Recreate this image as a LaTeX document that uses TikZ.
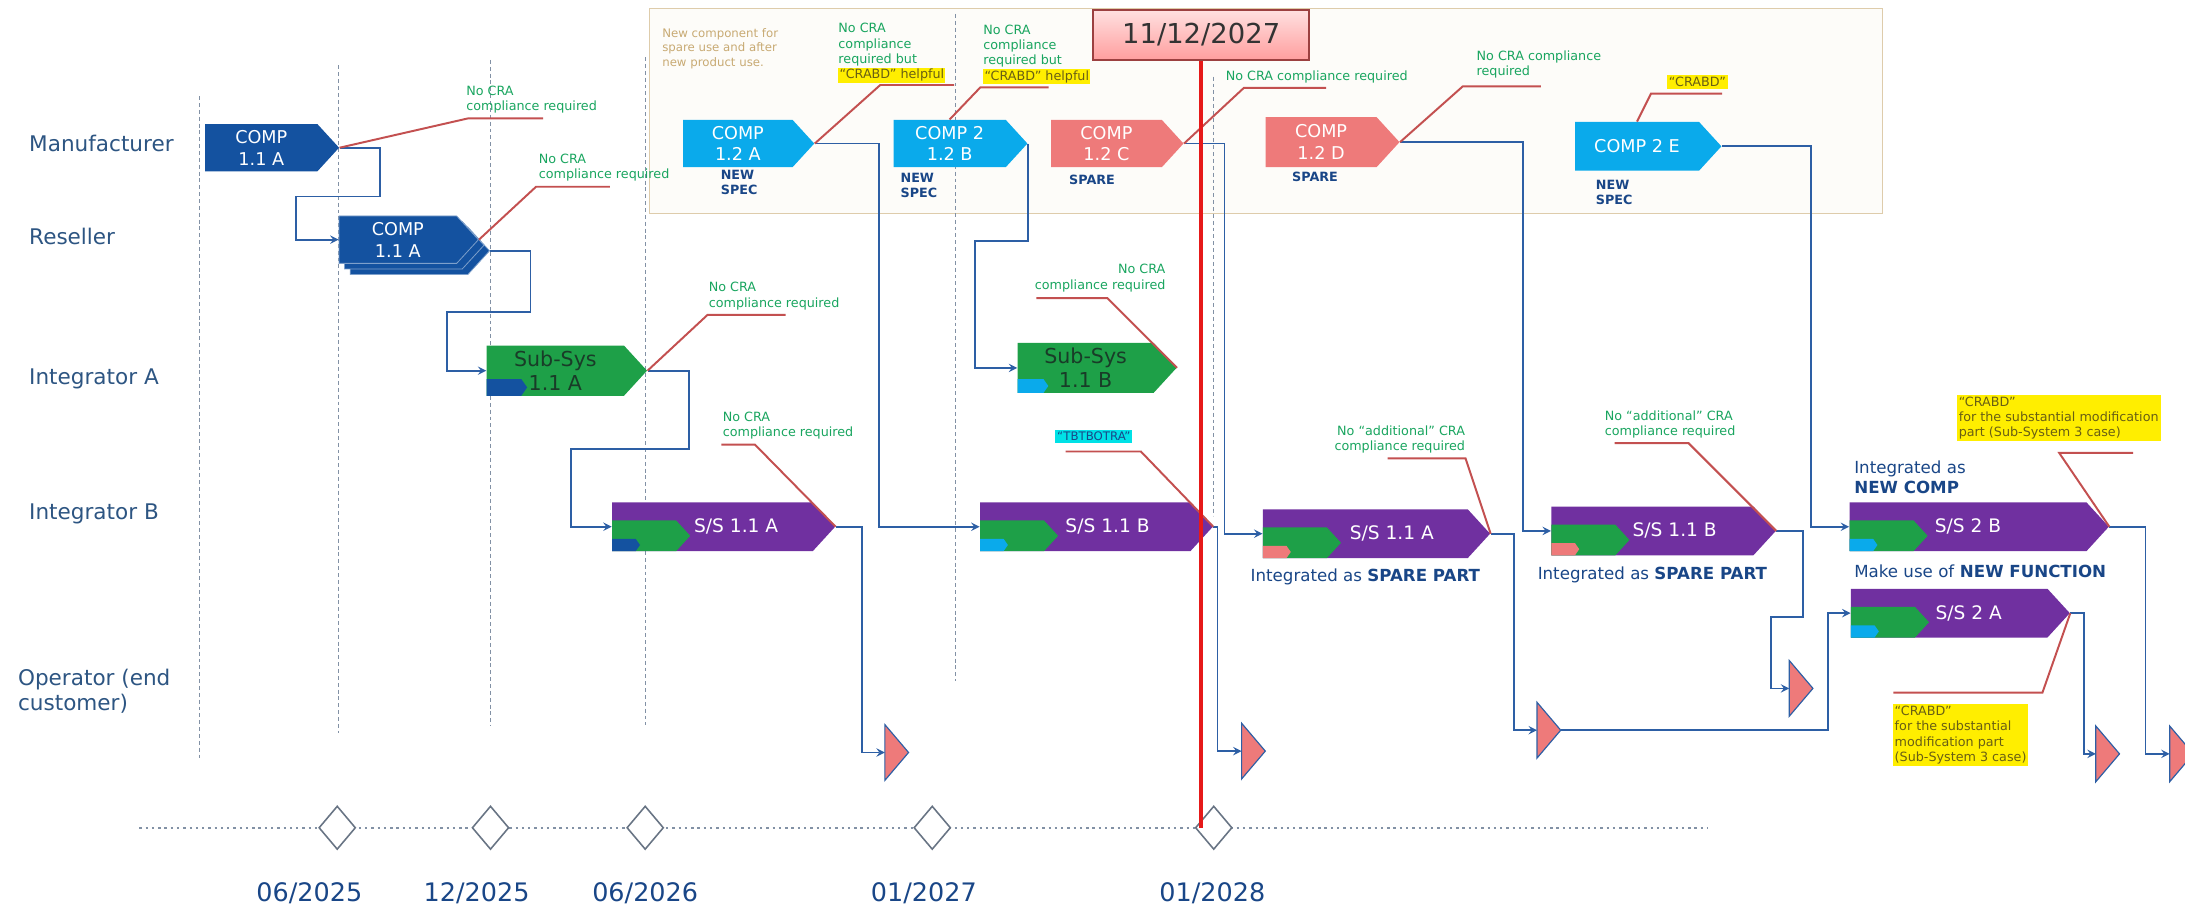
\documentclass[tikz,border=0pt]{standalone}
\usepackage{fontspec}
\setmainfont{DejaVu Sans}
\usetikzlibrary{positioning,shapes.symbols,shapes.geometric,shadows}
\setlength{\fboxsep}{0.6pt}

\definecolor{compdark}{RGB}{20,82,160}
\definecolor{complight}{RGB}{10,170,235}
\definecolor{compsalmon}{RGB}{238,122,122}
\definecolor{subgreen}{RGB}{30,160,72}
\definecolor{subtext}{RGB}{25,60,40}
\definecolor{sspurple}{RGB}{112,48,160}
\definecolor{flowblue}{RGB}{45,95,165}
\definecolor{lanetext}{RGB}{45,85,130}
\definecolor{annogreen}{RGB}{25,165,95}
\definecolor{leadred}{RGB}{195,80,80}
\definecolor{hlyellow}{RGB}{255,238,0}
\definecolor{hltext}{RGB}{105,95,20}
\definecolor{hlcyan}{RGB}{0,225,230}
\definecolor{datered}{RGB}{230,25,25}
\definecolor{specblue}{RGB}{25,70,135}
\definecolor{boxtan}{RGB}{200,170,115}
\definecolor{guidegray}{RGB}{130,145,165}

\tikzset{
  lane/.style={anchor=west, align=left, text=lanetext, font=\fontsize{11}{13}\selectfont},
  comp/.style={signal, signal to=east, signal pointer angle=95, inner sep=0pt, anchor=west,
    minimum height=0.85cm, text=white, align=center, font=\fontsize{9}{11}\selectfont},
  subsys/.style={comp, fill=subgreen, minimum height=0.9cm, text=subtext, font=\fontsize{10.5}{12.5}\selectfont},
  sscomp/.style={comp, fill=sspurple, minimum height=0.875cm, font=\fontsize{9.5}{11}\selectfont},
  ssinner/.style={signal, signal to=east, signal pointer angle=95, inner sep=0pt, anchor=south west,
    minimum width=1.4cm, minimum height=0.55cm, fill=subgreen},
  insetbar/.style={signal, signal to=east, signal pointer angle=110, inner sep=0pt, anchor=south west,
    minimum width=0.5cm, minimum height=0.22cm},
  flow/.style={draw=flowblue, line width=0.9pt, ->},
  lead/.style={draw=leadred, line width=1pt},
  anno/.style={align=left, text=annogreen, inner sep=1pt, font=\fontsize{6.5}{7.8}\selectfont},
  tag/.style={align=left, text=specblue, inner sep=0pt, anchor=north west, font=\bfseries\fontsize{6.5}{7.5}\selectfont},
  note/.style={text=specblue, inner sep=1pt, align=left, font=\fontsize{8.5}{10.5}\selectfont},
  milestone/.style={diamond, draw=guidegray!80!black, fill=white, line width=0.8pt, inner sep=0pt,
    minimum width=0.66cm, minimum height=0.78cm},
  datelabel/.style={text=specblue, font=\fontsize{13}{15}\selectfont},
  guide/.style={draw=guidegray, line width=0.5pt, dash pattern=on 2pt off 1.5pt},
  optri/.style={fill=compsalmon, draw=flowblue, line width=0.6pt},
  deadline/.style={draw=leadred!80!black, line width=0.8pt, top color=red!12, bottom color=red!38,
    minimum width=3.875cm, minimum height=0.9cm, text=black!80, font=\fontsize{14}{16}\selectfont},
}

\begin{document}
\begin{tikzpicture}[>=stealth,x=0.025cm,y=-0.025cm]
\useasboundingbox (0,0) rectangle (1568,651);
% new component frame
\draw[draw=boxtan!60, fill=boxtan!4] (466,6) rectangle (1351,153);
\node[anchor=north west, align=left, text=boxtan, inner sep=0pt, font=\fontsize{6}{7.5}\selectfont] (boxnote) at (475,20) {New component for\\spare use and after\\new product use.};

% time guides
\foreach \x/\a/\b in {143/69/545, 243/47/526, 352/43/521, 463/41/520, 686/10/489, 871/55/370}
  \draw[guide] (\x,\a) -- (\x,\b);

% lanes
\node[lane] (manuf) at (16,103) {Manufacturer};
\node[lane] (resel) at (16,170) {Reseller};
\node[lane] (inta) at (16,272) {Integrator A};
\node[lane] (intb) at (16,369) {Integrator B};
\node[lane] (oper) at (8,496) {Operator (end\\customer)};

% timeline
\coordinate (tl-start) at (100,594);
\coordinate (tl-end) at (1226,594);
\draw[draw=guidegray, line width=1.2pt, dotted] (tl-start) -- (tl-end);
\foreach \n/\x in {d1/242, d2/352, d3/463, d4/669, d5/871}
  \node[milestone] (\n) at (\x,594) {};
\node[datelabel] (dl1) at (222,641) {06/2025};
\node[datelabel] (dl2) at (342,641) {12/2025};
\node[datelabel] (dl3) at (463,641) {06/2026};
\node[datelabel] (dl4) at (663,641) {01/2027};
\node[datelabel] (dl5) at (870,641) {01/2028};

% components
\node[comp, fill=compdark, minimum width=2.4cm] (c11a) at (147,106) {COMP\\1.1 A};
\node[comp, fill=compdark, minimum width=2.5cm, draw=compdark!55!white,
  double copy shadow={shadow xshift=0.1cm, shadow yshift=-0.1cm}] (r11a) at (243,172) {COMP\\1.1 A};
\node[comp, fill=complight, minimum width=2.35cm] (c12a) at (490,103) {COMP\\1.2 A};
\node[comp, fill=complight, minimum width=2.4cm] (c212b) at (641,103) {COMP 2\\1.2 B};
\node[comp, fill=compsalmon, minimum width=2.375cm] (c12c) at (754,103) {COMP\\1.2 C};
\node[comp, fill=compsalmon, minimum width=2.4cm, minimum height=0.9cm] (c12d) at (908,102) {COMP\\1.2 D};
\node[comp, fill=complight, minimum width=2.625cm, minimum height=0.875cm] (c2e) at (1130,105) {COMP 2 E};

\node[tag] (tag12a) at (517,122) {NEW\\SPEC};
\node[tag] (tag212b) at (646,124) {NEW\\SPEC};
\node[tag] (tag12c) at (767,125) {SPARE};
\node[tag] (tag12d) at (927,123) {SPARE};
\node[tag] (tag2e) at (1145,129) {NEW\\SPEC};

% sub-systems
\node[subsys, minimum width=2.875cm] (sa11a) at (349,266) {Sub-Sys\\1.1 A};
\node[subsys, minimum width=2.85cm] (sb11b) at (730,264) {Sub-Sys\\1.1 B};
\node[insetbar, fill=compdark, minimum width=0.725cm, minimum height=0.3cm] (sa11a-c) at (sa11a.south west) {};
\node[insetbar, fill=complight, minimum width=0.55cm, minimum height=0.25cm] (sb11b-c) at (sb11b.south west) {};

\node[sscomp, minimum width=4cm] (ss11a) at (439,378) {\hspace*{0.85cm}S/S 1.1 A};
\node[sscomp, minimum width=4.175cm] (ss11b) at (703,378) {\hspace*{0.8cm}S/S 1.1 B};
\node[sscomp, minimum width=4.075cm] (ss11a2) at (906,383) {\hspace*{0.95cm}S/S 1.1 A};
\node[sscomp, minimum width=4.025cm] (ss11b2) at (1113,381) {\hspace*{0.8cm}S/S 1.1 B};
\node[sscomp, minimum width=4.65cm] (ss2b) at (1327,378) {S/S 2 B};
\node[sscomp, minimum width=3.925cm] (ss2a) at (1328,440) {\hspace*{0.7cm}S/S 2 A};
\foreach \n/\c in {ss11a/compdark, ss11b/complight, ss11a2/compsalmon, ss11b2/compsalmon, ss2b/complight, ss2a/complight}{
  \node[ssinner] (\n-g) at (\n.south west) {};
  \node[insetbar, fill=\c] (\n-c) at (\n.south west) {};
}

\node[note, below=0.15cm of ss11a2] (int1) {Integrated as \textbf{SPARE PART}};
\node[note, below=0.15cm of ss11b2] (int2) {Integrated as \textbf{SPARE PART}};
\node[note, above right=0.1cm and 0.05cm of ss2b.north west] (newcomp) {Integrated as\\\textbf{NEW COMP}};
\node[note, below right=0.2cm and 0.05cm of ss2b.south west] (newfunc) {Make use of \textbf{NEW FUNCTION}};

% operators
\foreach \n/\x/\y in {t1/635/540, t2/891/539, t3/1103/524, t4/1284/494, t5/1504/541, t6/1557/541}{
  \coordinate (\n) at (\x,\y);
  \coordinate (\n-tip) at (\x+17,\y);
}

% flows
\draw[flow] (c11a.east) -- ++(29,0) -- ++(0,35) -- ++(-60,0) |- (r11a.west);
\draw[flow] ([xshift=0.2cm,yshift=-0.2cm]r11a.east) -- ++(29,0) -- ++(0,44) -- ++(-60,0) |- (sa11a.west);
\draw[flow] (sa11a.east) -- ++(30,0) -- ++(0,56) -- ++(-85,0) |- (ss11a.west);
\draw[flow] (ss11a.east) -- ++(19,0) |- (t1);
\draw[flow] (c12a.east) -- ++(46,0) |- (ss11b.west);
\draw[flow] (c212b.east) -- ++(0,70) -- ++(-38,0) |- (sb11b.west);
\draw[flow] (ss11b.east) -- ++(3,0) |- (t2);
\draw[flow] (c12c.east) -- ++(29,0) |- (ss11a2.west);
\draw[flow] (c12d.east) -- ++(88,0) |- (ss11b2.west);
\draw[flow] (c2e.east) -- ++(64,0) |- (ss2b.west);
\draw[flow] (ss11a2.east) -- ++(17,0) |- (t3);
\draw[flow] (t3-tip) -- ++(192,0) |- (ss2a.west);
\draw[flow] (ss11b2.east) -- ++(19,0) -- ++(0,62) -- ++(-23,0) |- (t4);
\draw[flow] (ss2a.east) -- ++(10,0) |- (t5);
\draw[flow] (ss2b.east) -- ++(26,0) |- (t6);
\foreach \n in {t1,t2,t3,t4,t5,t6}
  \draw[optri] (\n) -- ++(0,-20) -- (\n-tip) -- ++(-17,20) -- cycle;

% CRA notes
\node[anno, anchor=south west] (n1) at (333,83) {No CRA\\compliance required};
\node[anno, anchor=south west] (n2) at (385,132) {No CRA\\compliance required};
\node[anno, anchor=south west] (n3) at (507,224) {No CRA\\compliance required};
\node[anno, anchor=south west] (n4) at (517,317) {No CRA\\compliance required};
\node[anno, anchor=south west] (n5) at (600,61) {No CRA\\compliance\\required but\\\colorbox{hlyellow}{\textcolor{hltext}{“CRABD” helpful}}};
\node[anno, anchor=south west] (n6) at (704,62) {No CRA\\compliance\\required but\\\colorbox{hlyellow}{\textcolor{hltext}{“CRABD” helpful}}};
\node[anno, anchor=south west] (n7) at (878,61) {No CRA compliance required};
\node[anno, anchor=south west] (n8) at (1058,58) {No CRA compliance\\required};
\node[anno, anchor=south west, fill=hlyellow, text=hltext] (n9) at (1196,64) {“CRABD”};
\node[anno, anchor=south east, align=right] (n10) at (838,211) {No CRA\\compliance required};
\node[anno, anchor=south west, fill=hlcyan, text=specblue, font=\fontsize{6}{7}\selectfont] (n11) at (757,318) {“TBTBOTRA”};
\node[anno, anchor=south east, align=right] (n12) at (1053,327) {No “additional” CRA\\compliance required};
\node[anno, anchor=south west] (n13) at (1150,316) {No “additional” CRA\\compliance required};
\node[anno, anchor=south west, fill=hlyellow, text=hltext] (n14) at (1404,317) {“CRABD”\\for the substantial modification\\part (Sub-System 3 case)};
\node[anno, anchor=north west, fill=hlyellow, text=hltext] (n15) at (1358,505) {“CRABD”\\for the substantial\\modification part\\(Sub-System 3 case)};

\draw[lead] (c11a.east) -- ++(92,-21) -- ++(54,0);
\draw[lead] (r11a.east) -- ++(41,-38) -- ++(53,0);
\draw[lead] (sa11a.east) -- ++(43,-40) -- ++(56,0);
\draw[lead] (ss11a.east) -- ++(-58,-59) -- ++(-24,0);
\draw[lead] (c12a.east) -- ++(47,-42) -- ++(53,0);
\draw[lead] (c212b.north) -- ++(22,-23) -- ++(49,0);
\draw[lead] (c12c.east) -- ++(43,-40) -- ++(59,0);
\draw[lead] (c12d.east) -- ++(45,-40) -- ++(56,0);
\draw[lead] (c2e.north) -- ++(10,-20) -- ++(51,0);
\draw[lead] (sb11b.east) -- ++(-50,-50) -- ++(-51,0);
\draw[lead] (ss11b.east) -- ++(-52,-54) -- ++(-54,0);
\draw[lead] (ss11a2.east) -- ++(-18,-54) -- ++(-56,0);
\draw[lead] (ss11b2.east) -- ++(-63,-63) -- ++(-53,0);
\draw[lead] (ss2b.east) -- ++(-36,-53) -- ++(53,0);
\draw[lead] (ss2a.east) -- ++(-20,57) -- ++(-107,0);

% deadline
\node[deadline] (deadline) at (862,25) {11/12/2027};
\draw[datered, line width=2.2pt] (deadline.south) -- (deadline.south |- d5.west);
\end{tikzpicture}
\end{document}
